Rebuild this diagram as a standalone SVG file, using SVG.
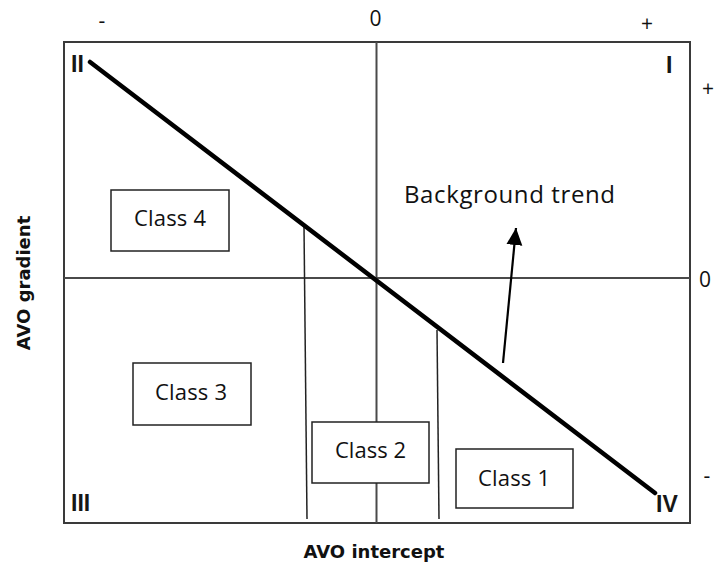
<svg xmlns="http://www.w3.org/2000/svg" width="714" height="569" viewBox="0 0 714 569">
  <style>
    .frame { fill: none; stroke: #3a3a3a; stroke-width: 2; }
    .axis { stroke: #4a4a4a; stroke-width: 2; fill: none; }
    .sep { stroke: #222; stroke-width: 1.5; fill: none; }
    .trend { stroke: #000; stroke-width: 4.5; stroke-linecap: round; fill: none; }
    .arrow { stroke: #000; stroke-width: 2.2; fill: none; }
    .box { fill: #fff; stroke: #222; stroke-width: 1.5; }
    .cls { font-family: "Open Sans", "Liberation Sans", sans-serif; font-size: 22px; fill: #111; text-anchor: middle; }
    .tick { font-family: "Open Sans", "Liberation Sans", sans-serif; font-size: 21px; fill: #111; text-anchor: middle; }
    .roman { font-family: "Liberation Sans", Arial, sans-serif; font-weight: bold; font-size: 23px; fill: #161616; }
    .title { font-family: "DejaVu Sans", Verdana, sans-serif; font-weight: bold; font-size: 18px; fill: #111; text-anchor: middle; }
    .note { font-family: "Open Sans", "Liberation Sans", sans-serif; font-size: 24px; fill: #111; }
  </style>
  <defs>
    <marker id="head" markerUnits="userSpaceOnUse" markerWidth="20" markerHeight="18" refX="17" refY="8" orient="auto">
      <path d="M0,0 L17,8 L0,16 Z" fill="#000"/>
    </marker>
  </defs>

  <rect width="714" height="569" fill="#fff"/>

  <!-- crossplot frame and zero axes -->
  <g id="plot">
    <rect class="frame" x="64" y="42" width="626" height="481"/>
    <line class="axis" x1="376.5" y1="42" x2="376.5" y2="523"/>
    <line class="axis" x1="64" y1="278" x2="690" y2="278"/>
  </g>

  <!-- class boundaries, background trend and its arrow -->
  <g id="connectors">
    <line class="sep" x1="304" y1="226" x2="307" y2="519"/>
    <line class="sep" x1="437" y1="330" x2="439" y2="519"/>
    <line class="trend" x1="90" y1="62" x2="655" y2="493"/>
    <line class="arrow" x1="503" y1="363" x2="516" y2="228" marker-end="url(#head)"/>
  </g>

  <g id="class4">
    <rect class="box" x="111" y="190" width="118" height="61"/>
    <text class="cls" x="170" y="226" textLength="72">Class 4</text>
  </g>
  <g id="class3">
    <rect class="box" x="133" y="363" width="118" height="62"/>
    <text class="cls" x="191" y="400" textLength="72">Class 3</text>
  </g>
  <g id="class2">
    <rect class="box" x="312" y="422" width="117" height="61"/>
    <text class="cls" x="370.5" y="458" textLength="71">Class 2</text>
  </g>
  <g id="class1">
    <rect class="box" x="456" y="449" width="117" height="59"/>
    <text class="cls" x="514" y="486" textLength="72">Class 1</text>
  </g>

  <g id="trend-label">
    <text class="note" x="404" y="203" textLength="211">Background trend</text>
  </g>

  <!-- quadrant numerals -->
  <g id="quadrants">
    <text class="roman" x="71" y="72">II</text>
    <text class="roman" x="666" y="73">I</text>
    <text class="roman" x="71" y="511">III</text>
    <text class="roman" x="656" y="512">IV</text>
  </g>

  <!-- sign ticks along the axes -->
  <g id="ticks">
    <text class="tick" x="102" y="28">-</text>
    <text class="tick" x="375.5" y="26">0</text>
    <text class="tick" x="647" y="31">+</text>
    <text class="tick" x="708" y="96">+</text>
    <text class="tick" x="705" y="287">0</text>
    <text class="tick" x="707" y="483">-</text>
  </g>

  <g id="axis-titles">
    <text class="title" x="374" y="558">AVO intercept</text>
    <text class="title" transform="translate(30,283) rotate(-90)" x="0" y="0">AVO gradient</text>
  </g>
</svg>
